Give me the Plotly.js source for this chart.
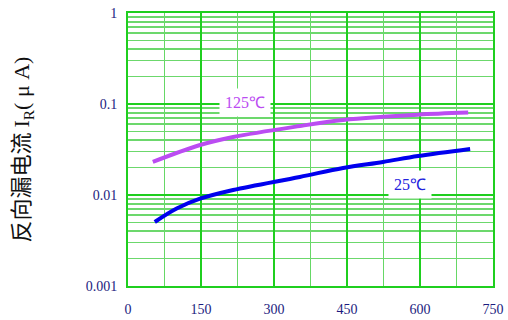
<!DOCTYPE html>
<html>
<head>
<meta charset="utf-8">
<script src="https://cdn.plot.ly/plotly-3.0.1.min.js"></script>
<style>html,body{margin:0;padding:0;background:#fff;}#chart{width:508px;height:320px;}</style>
</head>
<body>
<div id="chart"></div>
<script>
// Voltage (V) and reverse leakage current (μA)
const x125 = [51, 148, 216, 353, 442, 524, 596, 699];
const y125 = [0.0231, 0.0354, 0.0434, 0.0573, 0.0668, 0.0724, 0.0764, 0.0804];
const x25 = [55, 100, 148, 216, 353, 442, 524, 596, 703];
const y25 = [0.00505, 0.0071, 0.0091, 0.01135, 0.0158, 0.0198, 0.0231, 0.0268, 0.032];
const xTicks = [0, 150, 300, 450, 600, 750];
const yTicks = [0.001, 0.01, 0.1, 1];
const yTickText = ['0.001', '0.01', '0.1', '1'];
const yMinor = [0.002,0.003,0.004,0.005,0.006,0.007,0.008,0.009,
                0.02,0.03,0.04,0.05,0.06,0.07,0.08,0.09,
                0.2,0.3,0.4,0.5,0.6,0.7,0.8,0.9];
const label125 = '125℃';
const label25 = '25℃';

const green = '#1fcf1f';
const tickFont = {family: 'Liberation Serif, serif', size: 14, color: '#1c1c80'};

const traces = [
  {x: x125, y: y125, mode: 'lines', line: {color: '#bb4cf2', width: 4, shape: 'spline', smoothing: 1}, hoverinfo: 'skip'},
  {x: x25, y: y25, mode: 'lines', line: {color: '#0000ee', width: 4, shape: 'spline', smoothing: 1}, hoverinfo: 'skip'}
];

const layout = {
  width: 508, height: 320,
  margin: {l: 128, r: 15, t: 13, b: 34},
  paper_bgcolor: '#fff', plot_bgcolor: '#fff',
  showlegend: false,
  font: tickFont,
  xaxis: {
    range: [0, 750], tickmode: 'array', tickvals: xTicks,
    showgrid: true, gridcolor: green, gridwidth: 1.5,
    minor: {tickmode: 'linear', tick0: 0, dtick: 75, showgrid: true, gridcolor: '#66d866', gridwidth: 1.5, ticklen: 0},
    showline: true, linecolor: green, linewidth: 2, mirror: true,
    ticks: '', ticklabelstandoff: 9, zeroline: false,
    tickfont: tickFont
  },
  yaxis: {
    type: 'log', range: [-3, 0], tickmode: 'array', tickvals: yTicks, ticktext: yTickText,
    showgrid: true, gridcolor: green, gridwidth: 1.5,
    minor: {tickmode: 'array', tickvals: yMinor, showgrid: true, gridcolor: '#6cd86c', gridwidth: 1.5, ticklen: 0},
    showline: true, linecolor: green, linewidth: 2, mirror: true,
    ticks: '', ticklabelstandoff: 6, zeroline: false,
    tickfont: tickFont,
    title: {text: '反向漏电流 <span style="font-family:Liberation Serif">I<sub>R</sub>( μ A)</span>', standoff: 50,
            font: {family: 'Noto Sans CJK SC, Liberation Serif, serif', size: 22, color: '#111'}}
  },
  annotations: [
    {x: 240, y: Math.log10(0.1026), xref: 'x', yref: 'y', text: label125, showarrow: false,
     bgcolor: '#fff', borderpad: 5, font: {family: 'Liberation Serif, serif', size: 16, color: '#bb4cf2'}},
    {x: 579, y: Math.log10(0.0129), xref: 'x', yref: 'y', text: label25, showarrow: false,
     bgcolor: '#fff', borderpad: 5, font: {family: 'Liberation Serif, serif', size: 16, color: '#2222dd'}}
  ]
};

Plotly.newPlot('chart', traces, layout, {displayModeBar: false, staticPlot: true});
</script>
</body>
</html>
